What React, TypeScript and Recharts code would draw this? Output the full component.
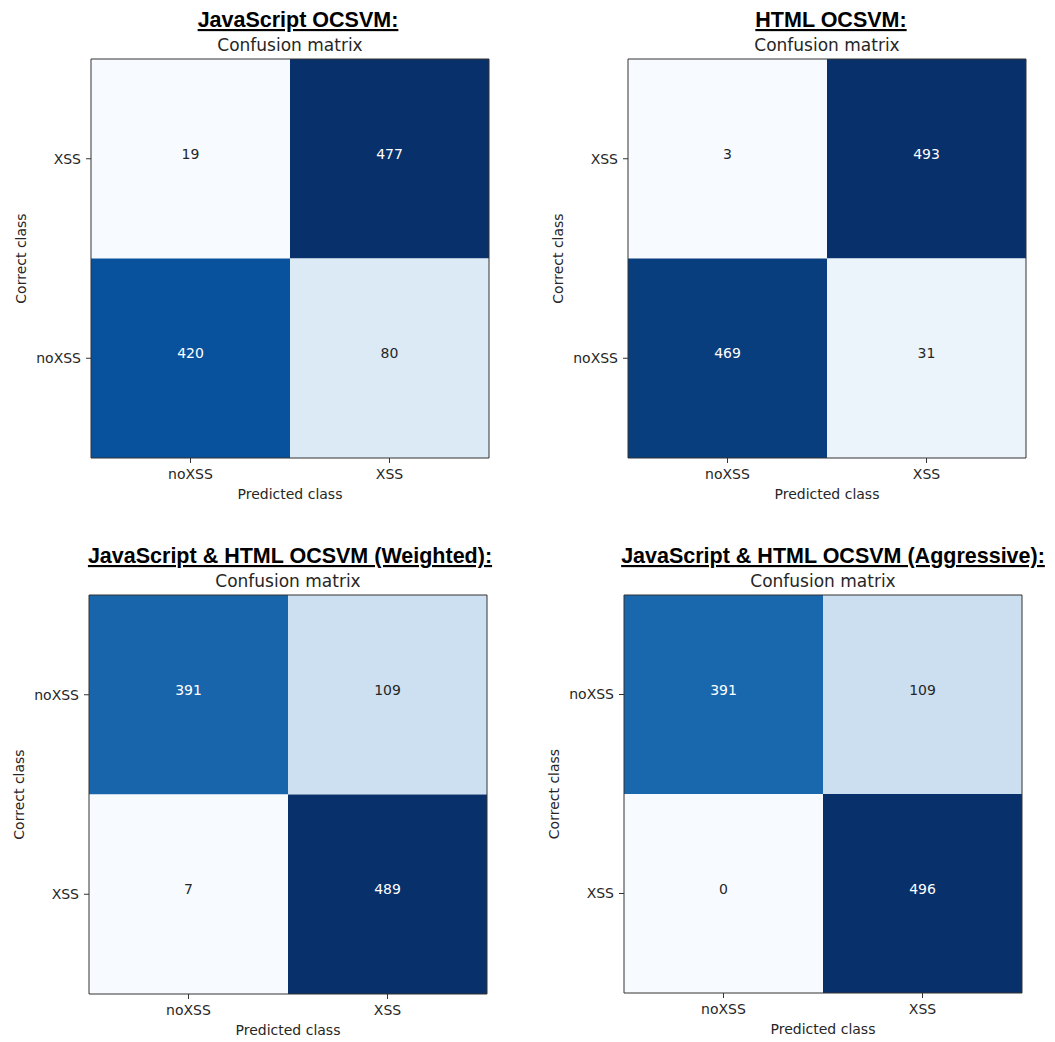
import React from 'react'
import { ScatterChart, Scatter, XAxis, YAxis, ReferenceArea } from 'recharts'

// class names along the predicted (x) axis
const predictedClasses = ['noXSS', 'XSS']

// rows top -> bottom, counts[row][col]
const jsRows = ['XSS', 'noXSS']
const jsCounts = [
  [19, 477],
  [420, 80],
]

const htmlRows = ['XSS', 'noXSS']
const htmlCounts = [
  [3, 493],
  [469, 31],
]

const weightedRows = ['noXSS', 'XSS']
const weightedCounts = [
  [391, 109],
  [7, 489],
]

const aggressiveRows = ['noXSS', 'XSS']
const aggressiveCounts = [
  [391, 109],
  [0, 496],
]

// matplotlib "Blues" colormap stops
const BLUES = [
  '#f7fbff', '#deebf7', '#c6dbef', '#9ecae1', '#6baed6',
  '#4292c6', '#2171b5', '#08519c', '#08306b',
]

function hexToRgb(h: string) {
  const n = parseInt(h.slice(1), 16)
  return [(n >> 16) & 255, (n >> 8) & 255, n & 255]
}

function blues(t: number) {
  const s = Math.max(0, Math.min(1, t)) * (BLUES.length - 1)
  const i = Math.min(Math.floor(s), BLUES.length - 2)
  const f = s - i
  const a = hexToRgb(BLUES[i])
  const b = hexToRgb(BLUES[i + 1])
  const c = a.map((v, k) => Math.round(v + (b[k] - v) * f))
  return `rgb(${c[0]},${c[1]},${c[2]})`
}

const MPL_FONT = '"DejaVu Sans", sans-serif'
const TEXT = '#262626'
const FRAME = '#333'

interface PanelProps {
  title: string
  rows: string[]
  counts: number[][]
  plotX: number
  plotY: number
  plotW: number
  plotH: number
  titleShift: number
}

function Panel({ title, rows, counts, plotX, plotY, plotW, plotH, titleShift }: PanelProps) {
  const flat = counts.flat()
  const lo = Math.min(...flat)
  const hi = Math.max(...flat)
  const thresh = hi / 2
  const cells = counts.flatMap((row, r) =>
    row.map((value, c) => ({ x: c, y: r, value }))
  )

  const yAxisW = 91
  const top = 20
  const right = 20
  const xAxisH = 60
  const width = yAxisW + plotW + right
  const height = top + plotH + xAxisH
  const cx = plotX + plotW / 2

  const renderCount = (props: any) => {
    const v = props.payload.value
    return (
      <text
        x={props.cx}
        y={props.cy}
        textAnchor="middle"
        fontSize={14}
        fontFamily={MPL_FONT}
        fill={v > thresh ? '#ffffff' : TEXT}
      >
        {v}
      </text>
    )
  }

  const xLabel = (props: any) => {
    const vb = props.viewBox || { x: yAxisW, y: top + plotH, width: plotW }
    return (
      <text
        x={vb.x + vb.width / 2}
        y={vb.y + 41}
        textAnchor="middle"
        fontSize={14}
        fontFamily={MPL_FONT}
        fill={TEXT}
      >
        Predicted class
      </text>
    )
  }

  const yLabel = (props: any) => {
    const vb = props.viewBox || { x: 0, y: top, width: yAxisW, height: plotH }
    const lx = vb.x + vb.width - 70
    const ly = vb.y + vb.height / 2
    return (
      <text
        x={lx}
        y={ly}
        transform={`rotate(-90 ${lx} ${ly})`}
        textAnchor="middle"
        dy="0.35em"
        fontSize={14}
        fontFamily={MPL_FONT}
        fill={TEXT}
      >
        Correct class
      </text>
    )
  }

  return (
    <>
      <svg
        width={1055}
        height={plotY}
        style={{ position: 'absolute', left: 0, top: 0, overflow: 'visible' }}
      >
        <text
          x={cx + titleShift}
          y={plotY - 32}
          textAnchor="middle"
          fontSize={21.5}
          fontWeight="bold"
          fontFamily='"Liberation Sans", Arial, sans-serif'
          textDecoration="underline"
          fill="#000"
        >
          {title}
        </text>
        <text
          x={cx}
          y={plotY - 8}
          textAnchor="middle"
          fontSize={17}
          fontFamily={MPL_FONT}
          fill={TEXT}
        >
          Confusion matrix
        </text>
      </svg>
      <div style={{ position: 'absolute', left: plotX - yAxisW, top: plotY - top }}>
        <ScatterChart
          width={width}
          height={height}
          margin={{ top, right, bottom: 0, left: 0 }}
        >
          <XAxis
            type="number"
            dataKey="x"
            domain={[-0.5, 1.5]}
            ticks={[0, 1]}
            allowDataOverflow
            height={xAxisH}
            axisLine={false}
            tickSize={5}
            tickMargin={6}
            tickLine={{ stroke: FRAME }}
            tick={{ fill: TEXT, fontSize: 14, fontFamily: MPL_FONT }}
            tickFormatter={(v: number) => predictedClasses[v]}
            label={{ value: 'Predicted class', content: xLabel }}
          />
          <YAxis
            type="number"
            dataKey="y"
            domain={[-0.5, 1.5]}
            ticks={[0, 1]}
            reversed
            allowDataOverflow
            width={yAxisW}
            axisLine={false}
            tickSize={5}
            tickMargin={5}
            tickLine={{ stroke: FRAME }}
            tick={{ fill: TEXT, fontSize: 14, fontFamily: MPL_FONT }}
            tickFormatter={(v: number) => rows[v]}
            label={{ value: 'Correct class', content: yLabel }}
          />
          {cells.map((c) => (
            <ReferenceArea
              key={`${c.x}-${c.y}`}
              x1={c.x - 0.5}
              x2={c.x + 0.5}
              y1={c.y - 0.5}
              y2={c.y + 0.5}
              fill={blues((c.value - lo) / (hi - lo))}
              fillOpacity={1}
              stroke="none"
            />
          ))}
          <ReferenceArea
            x1={-0.5}
            x2={1.5}
            y1={-0.5}
            y2={1.5}
            fill="none"
            stroke={FRAME}
            strokeWidth={1}
          />
          <Scatter data={cells} shape={renderCount} isAnimationActive={false} />
        </ScatterChart>
      </div>
    </>
  )
}

export default function App() {
  return (
    <div
      style={{
        position: 'absolute',
        left: 0,
        top: 0,
        width: 1055,
        height: 1042,
        background: '#fff',
        overflow: 'hidden',
      }}
    >
      <Panel
        title="JavaScript OCSVM:"
        rows={jsRows}
        counts={jsCounts}
        plotX={91}
        plotY={59}
        plotW={398}
        plotH={399}
        titleShift={8}
      />
      <Panel
        title="HTML OCSVM:"
        rows={htmlRows}
        counts={htmlCounts}
        plotX={628}
        plotY={59}
        plotW={398}
        plotH={399}
        titleShift={4}
      />
      <Panel
        title="JavaScript & HTML OCSVM (Weighted):"
        rows={weightedRows}
        counts={weightedCounts}
        plotX={89}
        plotY={595}
        plotW={398}
        plotH={399}
        titleShift={2}
      />
      <Panel
        title="JavaScript & HTML OCSVM (Aggressive):"
        rows={aggressiveRows}
        counts={aggressiveCounts}
        plotX={624}
        plotY={595}
        plotW={398}
        plotH={398}
        titleShift={10}
      />
    </div>
  )
}
